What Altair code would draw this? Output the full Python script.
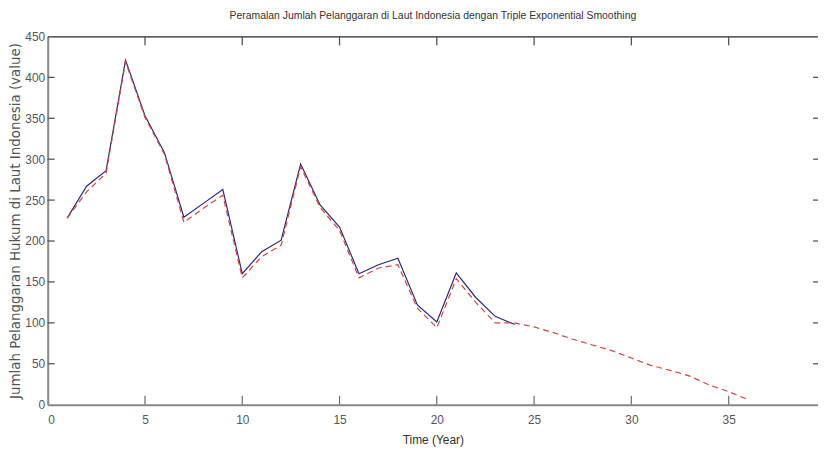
import altair as alt
import pandas as pd

# ---- data ----
years_actual = list(range(1, 25))
actual = [228, 267, 286, 421, 353, 308, 229, 246, 263, 160, 187, 201,
          294, 244, 217, 160, 171, 179, 122, 101, 161, 131, 108, 98]

years_forecast = list(range(1, 37))
forecast = [228, 260, 283, 419, 351, 306, 223, 240, 256, 155, 181, 195,
            291, 241, 213, 155, 167, 171, 118, 94, 154, 125, 100, 100,
            95, 88, 80, 73, 66, 57, 48, 42, 35, 24, 16, 6]

x_label_values = [0, 5, 10, 15, 20, 25, 30, 35]
y_label_values = [0, 50, 100, 150, 200, 250, 300, 350, 400, 450]
x_tick_values = [5, 10, 15, 20, 25, 30, 35]
y_tick_values = [50, 100, 150, 200, 250, 300, 350, 400]

title_text = "Peramalan Jumlah Pelanggaran di Laut Indonesia dengan Triple Exponential Smoothing"
x_title = "Time (Year)"
y_title = "Jumlah Pelanggaran Hukum di Laut Indonesia (value)"

# ---- styling ----
W, H = 776, 371
LAB = "Liberation Sans"
TICK_LEN = 9

df_a = pd.DataFrame({"t": years_actual, "v": actual})
df_f = pd.DataFrame({"t": years_forecast, "v": forecast})
df_xt = pd.DataFrame({"t": x_tick_values})
df_yt = pd.DataFrame({"v": y_tick_values})
df_one = pd.DataFrame({"k": [0]})

xscale = alt.Scale(domain=[0, W / 19.6], nice=False, zero=False)
yscale = alt.Scale(domain=[0, 450], nice=False)

xaxis = alt.Axis(values=x_label_values, ticks=False, grid=False,
                 domainColor="#888888", domainWidth=2,
                 labelFont=LAB, labelFontSize=12, labelColor="#555555",
                 labelPadding=10, title=x_title, titleFont=LAB,
                 titleFontSize=12, titleFontWeight="normal", titleColor="#333333",
                 titlePadding=9)
yaxis = alt.Axis(values=y_label_values, ticks=False, grid=False,
                 domainColor="#888888", domainWidth=2,
                 labelFont=LAB, labelFontSize=12, labelColor="#555555",
                 labelPadding=3, title=y_title, titleFont="DejaVu Sans",
                 titleFontSize=13.5, titleFontWeight="normal", titleColor="#555555",
                 titleX=-25, titleY=H / 2, titleAngle=270,
                 titleAlign="center", titleBaseline="bottom")

line_actual = alt.Chart(df_a).mark_line(color="#2a2a7a", strokeWidth=1.2).encode(
    x=alt.X("t:Q", scale=xscale, axis=xaxis),
    y=alt.Y("v:Q", scale=yscale, axis=yaxis),
)
line_fore = alt.Chart(df_f).mark_line(color="#d0463f", strokeWidth=1.2,
                                       strokeDash=[6, 4]).encode(
    x=alt.X("t:Q", scale=xscale),
    y=alt.Y("v:Q", scale=yscale),
)

tick_color = "#555555"
top_border = alt.Chart(df_one).mark_rule(color="#333333", strokeWidth=1.2).encode(
    x=alt.value(0), x2=alt.value(W), y=alt.value(0.5))
xt_bottom = alt.Chart(df_xt).mark_rule(color="#777777", strokeWidth=1.3).encode(
    x=alt.X("t:Q", scale=xscale), y=alt.value(H), y2=alt.value(H - TICK_LEN))
xt_top = alt.Chart(df_xt).mark_rule(color=tick_color, strokeWidth=1.3).encode(
    x=alt.X("t:Q", scale=xscale), y=alt.value(0), y2=alt.value(TICK_LEN))
yt_left = alt.Chart(df_yt).mark_rule(color=tick_color, strokeWidth=1.3).encode(
    y=alt.Y("v:Q", scale=yscale), x=alt.value(0), x2=alt.value(7))
yt_right = alt.Chart(df_yt).mark_rule(color=tick_color, strokeWidth=1.3).encode(
    y=alt.Y("v:Q", scale=yscale), x=alt.value(W), x2=alt.value(W - 5))

chart = alt.layer(line_actual, line_fore, top_border, xt_bottom, xt_top,
                  yt_left, yt_right).properties(
    width=W, height=H,
    title=alt.TitleParams(title_text, font=LAB, fontSize=10.5,
                          fontWeight="normal", color="#333333", offset=9,
                          anchor="middle"),
    autosize=alt.AutoSizeParams(type="none"),
    padding={"left": 40, "top": 27, "right": 0, "bottom": 44},
).configure_view(strokeWidth=0).configure(background="white")

chart.save("out.html", embed_options={"renderer": "svg", "actions": False})
